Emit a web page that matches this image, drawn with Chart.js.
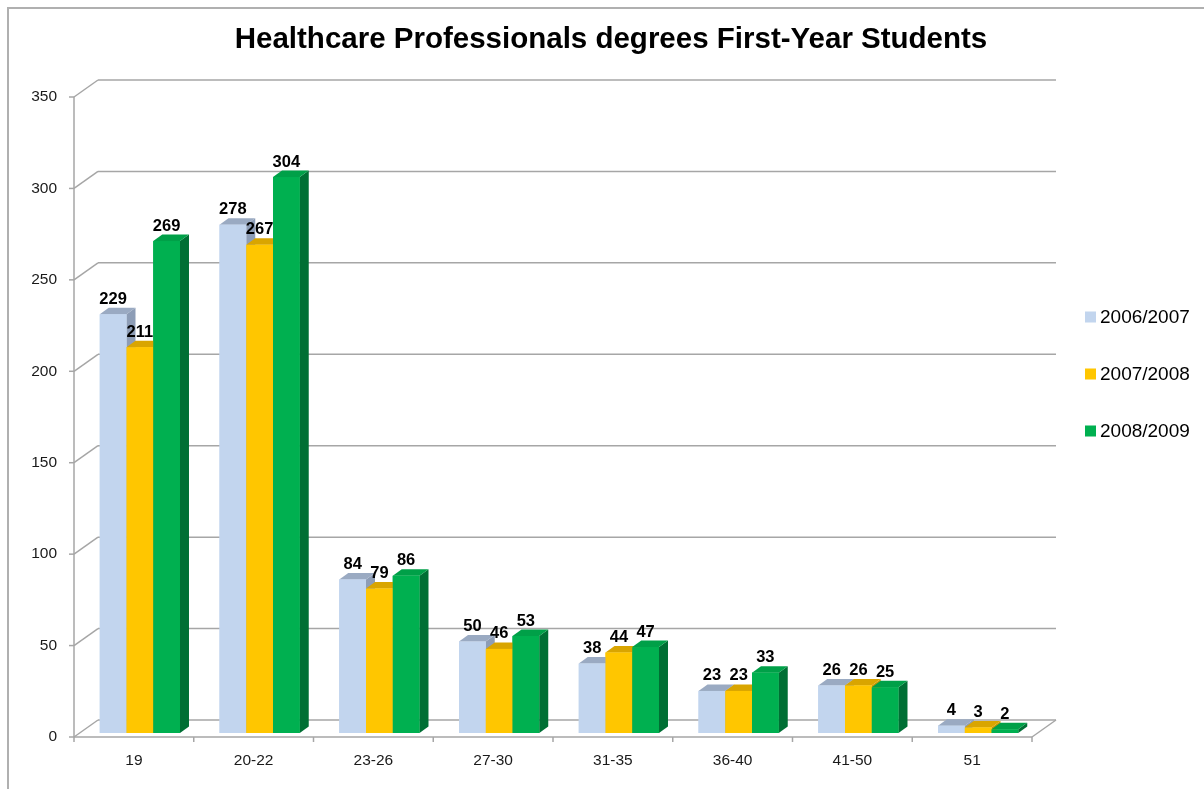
<!DOCTYPE html>
<html>
<head>
<meta charset="utf-8">
<title>Healthcare Professionals degrees First-Year Students</title>
<script src="https://cdn.jsdelivr.net/npm/chart.js@4.4.1/dist/chart.umd.min.js"></script>
<style>
    html, body { margin: 0; padding: 0; background: #ffffff; }
    #wrap { width: 1204px; height: 789px; }
</style>
</head>
<body>
<div id="wrap"><canvas id="ageChart" width="1204" height="789"></canvas></div>
<script>
// Age groups and first-year student counts per academic year
const ageGroups = ['19', '20-22', '23-26', '27-30', '31-35', '36-40', '41-50', '51'];
const year0607 = [229, 278, 84, 50, 38, 23, 26, 4];
const year0708 = [211, 267, 79, 46, 44, 23, 26, 3];
const year0809 = [269, 304, 86, 53, 47, 33, 25, 2];
const seriesLabels = ['2006/2007', '2007/2008', '2008/2009'];
const yTicks = [0, 50, 100, 150, 200, 250, 300, 350];
const chartTitle = 'Healthcare Professionals degrees First-Year Students';

// face colours: front, top, side
const palette = [
    { front: '#c2d5ee', top: '#9aaac2', side: '#8d9db6' },
    { front: '#ffc600', top: '#d9a500', side: '#c99600' },
    { front: '#00b050', top: '#00a048', side: '#006f34' }
];

// offsets of the front axis plane and the back wall relative to the bar plane
const FRONT = { dx: -6, dy: 4 };
const BACK = { dx: 18, dy: -13 };
// bar depth
const BAR = { dx: 9, dy: -6.5 };
const GRID = '#a6a6a6';
const FONT = '"Liberation Sans", Arial, sans-serif';

function line(ctx, x1, y1, x2, y2) {
    ctx.beginPath();
    ctx.moveTo(x1, y1);
    ctx.lineTo(x2, y2);
    ctx.stroke();
}

function poly(ctx, pts, color) {
    ctx.beginPath();
    ctx.moveTo(pts[0][0], pts[0][1]);
    for (let i = 1; i < pts.length; i++) ctx.lineTo(pts[i][0], pts[i][1]);
    ctx.closePath();
    ctx.fillStyle = color;
    ctx.fill();
}

// outer frame, title, walls, floor and axis lines
const wallsPlugin = {
    id: 'walls',
    beforeDraw(chart) {
        const ctx = chart.ctx;
        ctx.save();
        ctx.strokeStyle = '#b0b0b0';
        ctx.lineWidth = 2;
        ctx.beginPath();
        ctx.moveTo(8, chart.height);
        ctx.lineTo(8, 8);
        ctx.lineTo(chart.width, 8);
        ctx.stroke();

        ctx.fillStyle = '#000000';
        ctx.font = 'bold 29.5px ' + FONT;
        ctx.textAlign = 'center';
        ctx.textBaseline = 'middle';
        ctx.fillText(chartTitle, 611, 40);
        ctx.restore();
    },
    beforeDatasetsDraw(chart) {
        const ctx = chart.ctx;
        const y = chart.scales.y;
        const L = chart.chartArea.left, R = chart.chartArea.right;
        ctx.save();
        ctx.strokeStyle = GRID;
        ctx.lineWidth = 1.5;

        yTicks.forEach(v => {
            const p = y.getPixelForValue(v);
            line(ctx, L + FRONT.dx, p + FRONT.dy, L + BACK.dx, p + BACK.dy);
            line(ctx, L + BACK.dx, p + BACK.dy, R + BACK.dx, p + BACK.dy);
            line(ctx, L + FRONT.dx - 5, p + FRONT.dy, L + FRONT.dx, p + FRONT.dy);
        });

        const top = y.getPixelForValue(yTicks[yTicks.length - 1]);
        const base = y.getPixelForValue(0);
        // vertical axis
        line(ctx, L + FRONT.dx, top + FRONT.dy, L + FRONT.dx, base + FRONT.dy);
        // floor front edge and right edge
        line(ctx, L + FRONT.dx, base + FRONT.dy, R + FRONT.dx, base + FRONT.dy);
        line(ctx, R + FRONT.dx, base + FRONT.dy, R + BACK.dx, base + BACK.dy);

        // category tick marks
        const cw = (R - L) / ageGroups.length;
        for (let i = 0; i <= ageGroups.length; i++) {
            const px = L + i * cw + FRONT.dx;
            line(ctx, px, base + FRONT.dy, px, base + FRONT.dy + 5);
        }
        ctx.restore();
    }
};

// 3D bar faces, value labels and legend
const barsPlugin = {
    id: 'bars3d',
    afterDatasetsDraw(chart) {
        const ctx = chart.ctx;
        const metas = chart.data.datasets.map((d, i) => chart.getDatasetMeta(i));
        ctx.save();
        for (let i = 0; i < ageGroups.length; i++) {
            metas.forEach((meta, d) => {
                const bar = meta.data[i];
                const c = palette[d];
                const l = bar.x - bar.width / 2, r = bar.x + bar.width / 2;
                const t = bar.y, b = bar.base;
                poly(ctx, [[r, t], [r + BAR.dx, t + BAR.dy], [r + BAR.dx, b + BAR.dy], [r, b]], c.side);
                poly(ctx, [[l, t], [l + BAR.dx, t + BAR.dy], [r + BAR.dx, t + BAR.dy], [r, t]], c.top);
                ctx.fillStyle = c.front;
                ctx.fillRect(l, t, r - l, b - t);
            });
        }

        ctx.fillStyle = '#000000';
        ctx.font = 'bold 16.5px ' + FONT;
        ctx.textAlign = 'center';
        ctx.textBaseline = 'alphabetic';
        metas.forEach((meta, d) => {
            const values = chart.data.datasets[d].data;
            meta.data.forEach((bar, i) => {
                ctx.fillText(String(values[i]), bar.x, bar.y + BAR.dy - 4);
            });
        });
        ctx.restore();
    },
    afterDraw(chart) {
        const ctx = chart.ctx;
        ctx.save();
        ctx.font = '19px ' + FONT;
        ctx.textAlign = 'left';
        ctx.textBaseline = 'middle';
        chart.data.datasets.forEach((ds, d) => {
            const cy = 317 + d * 57;
            ctx.fillStyle = palette[d].front;
            ctx.fillRect(1085, cy - 5.5, 11, 11);
            ctx.fillStyle = '#000000';
            ctx.fillText(ds.label, 1100, cy + 1);
        });
        ctx.restore();
    }
};

const ctx = document.getElementById('ageChart');
new Chart(ctx, {
    type: 'bar',
    data: {
        labels: ageGroups,
        datasets: [
            { label: seriesLabels[0], data: year0607, backgroundColor: palette[0].front },
            { label: seriesLabels[1], data: year0708, backgroundColor: palette[1].front },
            { label: seriesLabels[2], data: year0809, backgroundColor: palette[2].front }
        ]
    },
    options: {
        responsive: false,
        animation: false,
        devicePixelRatio: 1,
        layout: { padding: { left: 0, right: 166, top: 93, bottom: 0 } },
        datasets: {
            bar: { categoryPercentage: 0.67, barPercentage: 1.0, borderWidth: 0 }
        },
        plugins: {
            legend: { display: false },
            tooltip: { enabled: false },
            title: { display: false }
        },
        scales: {
            x: {
                grid: { display: false, drawTicks: false },
                border: { display: false },
                ticks: {
                    color: '#1a1a1a',
                    font: { family: FONT, size: 15.5 },
                    padding: 18,
                    labelOffset: FRONT.dx,
                    maxRotation: 0
                },
                afterFit(scale) { scale.height = 56; }
            },
            y: {
                min: 0,
                max: 350,
                grid: { display: false, drawTicks: false },
                border: { display: false },
                ticks: {
                    stepSize: 50,
                    color: '#1a1a1a',
                    font: { family: FONT, size: 15.5 },
                    padding: 23,
                    labelOffset: FRONT.dy
                },
                afterFit(scale) { scale.width = 80; }
            }
        }
    },
    plugins: [wallsPlugin, barsPlugin]
});
</script>
</body>
</html>
